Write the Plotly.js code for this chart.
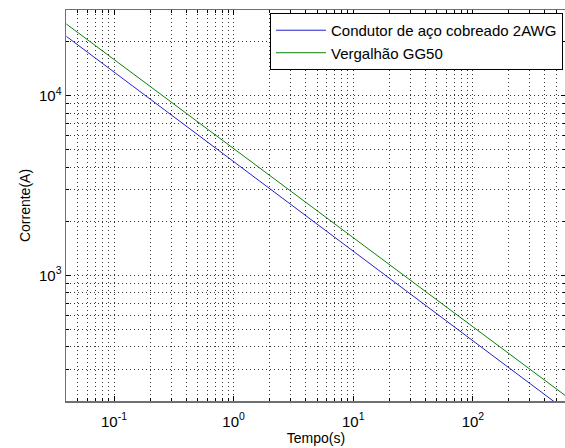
<!DOCTYPE html>
<html>
<head>
<meta charset="utf-8">
<script src="https://cdn.plot.ly/plotly-3.0.1.min.js"></script>
<style>
html,body{margin:0;padding:0;overflow:hidden;background:#fff;}
#chart{width:566px;height:448px;}
</style>
</head>
<body>
<div id="chart"></div>
<script>
// Data (log-log)
const tempo = [0.04, 0.1, 1, 10, 100, 600];
const correnteCobreado = [21400, 13550, 4300, 1362, 432, 177];
const correnteVergalhao = [25060, 15910, 5080, 1623, 518, 213];
const seriesNames = ['Condutor de aço cobreado 2AWG', 'Vergalhão GG50'];
const xTickVals = [0.1, 1, 10, 100];
const xTickText = ['10<sup>-1</sup>', '10<sup>0</sup>', '10<sup>1</sup>', '10<sup>2</sup>'];
const yTickVals = [1000, 10000];
const yTickText = ['10<sup>3</sup>', '10<sup>4</sup>'];

const fam = 'Liberation Sans, Arial, sans-serif';

const traces = [
  {x: tempo, y: correnteCobreado, name: seriesNames[0], type: 'scatter', mode: 'lines',
   line: {color: '#2222cc', width: 1}},
  {x: tempo, y: correnteVergalhao, name: seriesNames[1], type: 'scatter', mode: 'lines',
   line: {color: '#0a800a', width: 1}}
];

const gridCommon = {
  showgrid: true, gridcolor: '#333', griddash: '1px,3px', gridwidth: 1,
  showline: true, linecolor: '#707070', linewidth: 1.5, mirror: 'allticks',
  ticks: 'inside', ticklen: 5, tickcolor: '#000', zeroline: false,
  tickfont: {family: fam, size: 15, color: '#000'}
};

const layout = {
  width: 566, height: 448,
  margin: {l: 66, r: 0, t: 10, b: 47},
  paper_bgcolor: '#fff', plot_bgcolor: '#fff',
  font: {family: fam, size: 14, color: '#000'},
  showlegend: true,
  legend: {x: 0.994, xanchor: 'right', y: 0.9195, yanchor: 'middle',
           bgcolor: '#fff', bordercolor: '#000', borderwidth: 1,
           font: {family: fam, size: 15, color: '#000'},
           itemwidth: 50, tracegroupgap: 0},
  xaxis: Object.assign({}, gridCommon, {
    type: 'log', range: [Math.log10(0.0397), Math.log10(600)],
    tickvals: xTickVals, ticktext: xTickText,
    ticklabelstandoff: 6,
    title: {text: 'Tempo(s)', font: {family: fam, size: 14}, standoff: 4},
    minor: {dtick: 'D1', ticks: 'inside', ticklen: 3, tickcolor: '#000',
            showgrid: true, gridcolor: '#333', griddash: '1px,3px', gridwidth: 1}
  }),
  yaxis: Object.assign({}, gridCommon, {
    type: 'log', range: [Math.log10(200), Math.log10(30000)],
    tickvals: yTickVals, ticktext: yTickText,
    title: {text: 'Corrente(A)', font: {family: fam, size: 14}, standoff: 5},
    minor: {dtick: 'D1', ticks: 'inside', ticklen: 3, tickcolor: '#000',
            showgrid: true, gridcolor: '#333', griddash: '1px,3px', gridwidth: 1}
  })
};

Plotly.newPlot('chart', traces, layout, {displayModeBar: false, staticPlot: true});
</script>
</body>
</html>
